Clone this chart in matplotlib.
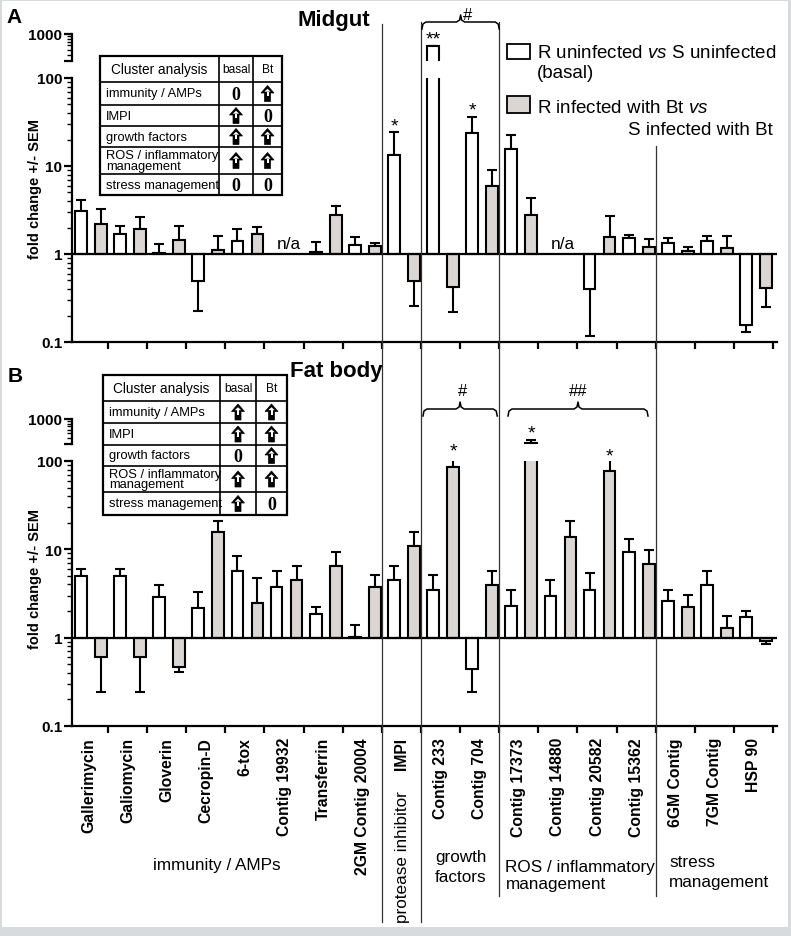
import numpy as np
import matplotlib
matplotlib.use('Agg')
import matplotlib.pyplot as plt
from matplotlib.patches import Rectangle, Polygon
from matplotlib.ticker import FixedLocator, NullFormatter, LogLocator

plt.rcParams['font.family'] = ['Liberation Sans', 'DejaVu Sans']
plt.rcParams['mathtext.fontset'] = 'custom'
plt.rcParams['mathtext.rm'] = 'Liberation Sans'
plt.rcParams['mathtext.it'] = 'Liberation Sans:italic'

# ---------------- data ----------------
genes = ["Gallerimycin", "Galiomycin", "Gloverin", "Cecropin-D", "6-tox",
         "Contig 19932", "Transferrin", "2GM Contig 20004", "IMPI",
         "Contig 233", "Contig 704", "Contig 17373", "Contig 14880",
         "Contig 20582", "Contig 15362", "6GM Contig", "7GM Contig", "HSP 90"]
nan = np.nan

# Midgut (fold change and end of SEM bar)
mid_basal = [3.08, 1.69, 1.02, 0.49, 1.40, nan, 1.05, 1.27, 13.3, 590, 23.7,
             15.6, nan, 0.40, 1.52, 1.33, 1.40, 0.156]
mid_basal_sem = [4.1, 2.08, 1.30, 0.225, 1.92, nan, 1.37, 1.56, 24.3, 590, 36,
                 22.5, nan, 0.117, 1.64, 1.52, 1.60, 0.13]
mid_bt = [2.19, 1.92, 1.44, 1.11, 1.69, nan, 2.77, 1.23, 0.49, 0.42, 5.93,
          2.77, nan, 1.56, 1.20, 1.08, 1.17, 0.41]
mid_bt_sem = [3.25, 2.63, 2.08, 1.6, 2.03, nan, 3.5, 1.33, 0.257, 0.22, 9.0,
              4.33, nan, 2.7, 1.48, 1.2, 1.6, 0.25]

# Fat body
fat_basal = [4.93, 4.93, 2.92, 2.19, 5.62, 3.7, 1.87, 1.03, 4.44, 3.42, 0.44,
             2.31, 3.0, 3.42, 9.25, 2.57, 3.9, 1.73]
fat_basal_sem = [5.93, 5.93, 3.9, 3.33, 8.3, 5.62, 2.25, 1.4, 6.4, 5.07, 0.243,
                 3.42, 4.44, 5.34, 13.0, 3.42, 5.62, 2.03]
fat_bt = [0.61, 0.61, 0.47, 15.6, 2.5, 4.44, 6.4, 3.7, 10.8, 85.6, 3.9, 310,
          13.7, 77, 6.75, 2.25, 1.3, 0.925]
fat_bt_sem = [0.243, 0.243, 0.41, 20.8, 4.68, 6.4, 9.25, 5.07, 15.6, 160, 5.62,
              365, 20.8, 123, 9.75, 3.08, 1.78, 0.855]

# significance marks: (category, series, symbol)
mid_stars = [(8, 'basal', '*'), (10, 'basal', '*'), (9, 'basal', '**')]
fat_stars = [(9, 'bt', '*'), (11, 'bt', '*'), (13, 'bt', '*')]
mid_na = [5, 12]

table_rows = ["immunity / AMPs", "IMPI", "growth factors",
              "ROS / inflammatory\nmanagement", "stress management"]
mid_table = [('0', 'up'), ('up', '0'), ('up', 'up'), ('up', 'up'), ('0', '0')]
fat_table = [('up', 'up'), ('up', 'up'), ('0', 'up'), ('up', 'up'), ('up', '0')]

legend_labels = ["R uninfected $\\mathit{vs}$ S uninfected", "(basal)",
                 "R infected with Bt $\\mathit{vs}$", "S infected with Bt"]

# ---------------- layout ----------------
W, H = 791, 937
GREY = '#dcd6d2'
XL, XR = -0.42, 17.6
AX_L, AX_R = 72, 777

fig = plt.figure(figsize=(W / 100, H / 100), dpi=100)
fig.patch.set_facecolor('#d8dbdd')
fig.add_artist(Rectangle((2 / W, 9 / H), 786 / W, 926 / H, transform=fig.transFigure,
                         facecolor='white', edgecolor='none', zorder=-10))


def fax(x0, y0, x1, y1):
    return [x0 / W, 1 - y1 / H, (x1 - x0) / W, (y1 - y0) / H]


def px(d):
    return AX_L + (d - XL) / (XR - XL) * (AX_R - AX_L)


axA = fig.add_axes(fax(AX_L, 79, AX_R, 343))
axA_up = fig.add_axes(fax(AX_L, 35, AX_R, 62))
axB = fig.add_axes(fax(AX_L, 462, AX_R, 727))
axB_up = fig.add_axes(fax(AX_L, 420, AX_R, 445))

xcat = np.arange(len(genes))
OFF = {'basal': -0.19, 'bt': 0.32}


def draw_bars(ax, basal, basal_sem, bt, bt_sem):
    for key, vals, ends, col in [('basal', basal, basal_sem, 'white'),
                                 ('bt', bt, bt_sem, GREY)]:
        vals = np.array(vals, float)
        ends = np.array(ends, float)
        m = ~np.isnan(vals)
        xx = xcat[m] + OFF[key]
        v = vals[m]
        e = ends[m]
        lower = np.where(e < v, v - e, 0)
        upper = np.where(e > v, e - v, 0)
        ax.errorbar(xx, v, yerr=[lower, upper], fmt='none', ecolor='black',
                    elinewidth=1.5, capsize=3.6, capthick=1.5, zorder=2)
        ax.bar(xx, v - 1, bottom=1, width=0.30, color=col, edgecolor='black',
               linewidth=1.5, zorder=3)


def setup_main(ax, labels):
    ax.set_yscale('log')
    ax.set_ylim(0.1, 100)
    ax.set_xlim(XL, XR)
    ax.patch.set_alpha(0)
    for s in ['top', 'right']:
        ax.spines[s].set_visible(False)
    for s in ['left', 'bottom']:
        ax.spines[s].set_linewidth(1.6)
    ax.set_yticks([0.1, 1, 10, 100])
    ax.set_yticklabels(['0.1', '1', '10', '100'], fontweight='bold', fontsize=11)
    ax.yaxis.set_minor_locator(LogLocator(base=10, subs=np.arange(2, 10)))
    ax.yaxis.set_minor_formatter(NullFormatter())
    ax.tick_params(axis='y', which='major', length=6, width=1.6, pad=1)
    ax.tick_params(axis='y', which='minor', length=3.5, width=1.0)
    ax.set_xticks(xcat + 0.5)
    ax.set_xticklabels([])
    ax.tick_params(axis='x', which='major', length=5, width=1.6)
    if labels:
        ax.set_xticks(xcat, minor=True)
        ax.set_xticklabels(genes, minor=True, rotation=90, fontweight='bold',
                           fontsize=11.3)
        ax.tick_params(axis='x', which='minor', length=0, pad=8)
    ax.axhline(1, color='black', lw=1.6, zorder=4)


def setup_up(ax):
    ax.set_yscale('log')
    ax.set_ylim(300, 1000)
    ax.set_xlim(XL, XR)
    ax.patch.set_alpha(0)
    for s in ['top', 'right', 'bottom']:
        ax.spines[s].set_visible(False)
    ax.spines['left'].set_linewidth(1.6)
    ax.set_yticks([300, 1000])
    ax.set_yticklabels(['', '1000'], fontweight='bold', fontsize=11)
    ax.yaxis.set_minor_locator(FixedLocator([400, 500, 600, 700, 800, 900]))
    ax.yaxis.set_minor_formatter(NullFormatter())
    ax.tick_params(axis='y', which='major', length=6, width=1.6, pad=1)
    ax.tick_params(axis='y', which='minor', length=3.5, width=1.0)
    ax.set_xticks([])


for ax in (axA, axA_up):
    draw_bars(ax, mid_basal, mid_basal_sem, mid_bt, mid_bt_sem)
for ax in (axB, axB_up):
    draw_bars(ax, fat_basal, fat_basal_sem, fat_bt, fat_bt_sem)
setup_main(axA, False)
setup_main(axB, True)
setup_up(axA_up)
setup_up(axB_up)


def put_stars(ax_main, ax_up, stars, sems):
    for c, key, sym in stars:
        end = sems[key][c]
        ax = ax_up if end > 100 else ax_main
        ax.annotate(sym, xy=(c + OFF[key], end), xytext=(0, 1.5),
                    textcoords='offset points', ha='center', va='baseline',
                    fontsize=14, annotation_clip=False, zorder=6)


put_stars(axA, axA_up, mid_stars, {'basal': mid_basal_sem, 'bt': mid_bt_sem})
put_stars(axB, axB_up, fat_stars, {'basal': fat_basal_sem, 'bt': fat_bt_sem})
for c in mid_na:
    axA.text(c + 0.12, 1.3, 'n/a', ha='center', va='center', fontsize=12.4)

# ---------------- overlay (annotations) ----------------
ov = fig.add_axes([0, 0, 1, 1], zorder=10)
ov.set_xlim(0, W)
ov.set_ylim(H, 0)
ov.axis('off')

# separator lines
for d, y0, y1 in [(7.5, 25, 923), (8.5, 23, 923), (10.5, 23, 897), (14.5, 147, 897)]:
    ov.plot([px(d), px(d)], [y0, y1], color='#333333', lw=0.9)


def brace(x0, x1, y, h=7):
    xc = (x0 + x1) / 2
    xs = [x0, x0 + 1, x0 + 4, xc - 4, xc - 1, xc, xc + 1, xc + 4, x1 - 4, x1 - 1, x1]
    ys = [y + h, y + 2, y, y, y - 2, y - h, y - 2, y, y, y + 2, y + h]
    ov.plot(xs, ys, color='black', lw=1.1)


brace(px(8.5) + 1, px(10.5), 23)
ov.text(468, 20, '#', ha='center', va='baseline', fontsize=12)
brace(px(8.5) + 2, px(10.5) - 2, 410)
ov.text(463, 396, '#', ha='center', va='baseline', fontsize=12)
brace(508, 648, 410)
ov.text(578, 396, '##', ha='center', va='baseline', fontsize=12)


def arrow(cx, cy):
    pts = [(cx, cy - 8), (cx - 6.5, cy - 0.5), (cx - 3, cy - 0.5), (cx - 3, cy + 8),
           (cx + 3, cy + 8), (cx + 3, cy - 0.5), (cx + 6.5, cy - 0.5)]
    ov.add_patch(Polygon(pts, closed=True, facecolor='black', edgecolor='black', lw=0.5))
    ov.add_patch(Polygon([(cx, cy - 4.8), (cx - 3.2, cy - 1.8), (cx + 3.2, cy - 1.8)],
                         closed=True, facecolor='white', edgecolor='none'))
    ov.add_patch(Rectangle((cx - 1, cy - 2), 2, 4.5, facecolor='white', edgecolor='none'))


def table(cols, rows, content):
    x0, x3 = cols[0], cols[-1]
    ov.add_patch(Rectangle((x0, rows[0]), x3 - x0, rows[-1] - rows[0],
                           facecolor='white', edgecolor='black', lw=1.6))
    for yy in rows[1:-1]:
        ov.plot([x0, x3], [yy, yy], color='black', lw=1.2)
    for xx in cols[1:-1]:
        ov.plot([xx, xx], [rows[0], rows[-1]], color='black', lw=1.2)
    yc = (rows[0] + rows[1]) / 2
    ov.text((cols[0] + cols[1]) / 2, yc, 'Cluster analysis', ha='center', va='center',
            fontsize=9.8)
    ov.text((cols[1] + cols[2]) / 2, yc, 'basal', ha='center', va='center', fontsize=8.6)
    ov.text((cols[2] + cols[3]) / 2, yc, 'Bt', ha='center', va='center', fontsize=8.6)
    for i, (lab, cells) in enumerate(zip(table_rows, content)):
        y_a, y_b = rows[i + 1], rows[i + 2]
        yc = (y_a + y_b) / 2
        ov.text(x0 + 6, yc, lab, ha='left', va='center', fontsize=9.3, linespacing=0.85)
        for j, cell in enumerate(cells):
            xc = (cols[j + 1] + cols[j + 2]) / 2
            if cell == 'up':
                arrow(xc, yc)
            else:
                ov.text(xc, yc + 1, '0', ha='center', va='center', fontsize=13,
                        fontweight='bold', family='Liberation Serif')


table([100, 219, 253, 282], [57, 83, 106, 127, 148, 175, 196], mid_table)
table([103, 220, 256, 287], [376, 402, 424, 446, 467, 493, 516], fat_table)

# legend
ov.add_patch(Rectangle((507, 45), 23, 15, facecolor='white', edgecolor='black', lw=1.3))
ov.add_patch(Rectangle((507, 97), 23, 17, facecolor=GREY, edgecolor='black', lw=1.3))
ov.text(537, 58, legend_labels[0], ha='left', va='baseline', fontsize=13.5)
ov.text(537, 78, legend_labels[1], ha='left', va='baseline', fontsize=13.5)
ov.text(537, 113, legend_labels[2], ha='left', va='baseline', fontsize=13.5)
ov.text(628, 135, legend_labels[3], ha='left', va='baseline', fontsize=13.5)

# titles and panel letters
ov.text(334, 26, 'Midgut', ha='center', va='baseline', fontsize=16, fontweight='bold')
ov.text(336, 377, 'Fat body', ha='center', va='baseline', fontsize=16, fontweight='bold')
ov.text(14, 23, 'A', ha='center', va='baseline', fontsize=15, fontweight='bold')
ov.text(15, 382, 'B', ha='center', va='baseline', fontsize=15, fontweight='bold')

# y labels
ov.text(35, 189, 'fold change +/- SEM', rotation=90, ha='center', va='center',
        fontsize=10.5, fontweight='bold')
ov.text(35, 579, 'fold change +/- SEM', rotation=90, ha='center', va='center',
        fontsize=10.5, fontweight='bold')

# group labels
ov.text(217, 870, 'immunity / AMPs', ha='center', va='baseline', fontsize=12.3)
ov.text(402, 857, 'protease inhibitor', rotation=90, ha='center', va='center', fontsize=12.3)
ov.text(435, 862, 'growth', ha='left', va='baseline', fontsize=12.3)
ov.text(435, 882, 'factors', ha='left', va='baseline', fontsize=12.3)
ov.text(505, 872, 'ROS / inflammatory', ha='left', va='baseline', fontsize=12.3)
ov.text(506, 889, 'management', ha='left', va='baseline', fontsize=12.3)
ov.text(669, 867, 'stress', ha='left', va='baseline', fontsize=12.3)
ov.text(669, 887, 'management', ha='left', va='baseline', fontsize=12.3)

fig.savefig('out.png', dpi=100, facecolor=fig.get_facecolor())
